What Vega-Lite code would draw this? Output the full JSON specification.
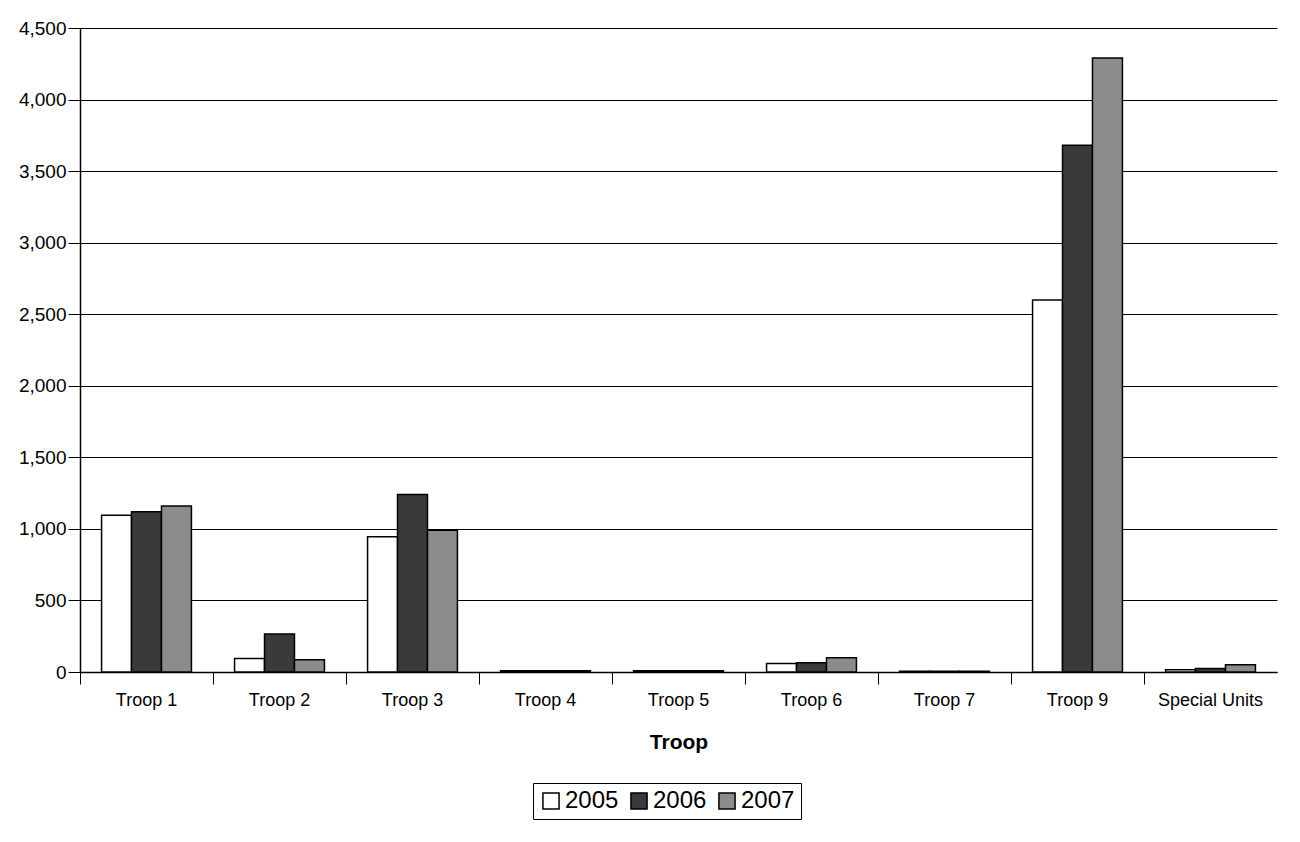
{
  "$schema": "https://vega.github.io/schema/vega-lite/v6.json",
  "width": 1197,
  "height": 644,
  "autosize": {"type": "none"},
  "padding": {"left": 80, "top": 28, "right": 23, "bottom": 170},
  "background": "white",
  "config": {"font": "Liberation Sans", "view": {"stroke": null}},
  "data": {
    "values": [
      {"troop": "Troop 1", "year": "2005", "value": 1095},
      {"troop": "Troop 1", "year": "2006", "value": 1120},
      {"troop": "Troop 1", "year": "2007", "value": 1160},
      {"troop": "Troop 2", "year": "2005", "value": 95},
      {"troop": "Troop 2", "year": "2006", "value": 265},
      {"troop": "Troop 2", "year": "2007", "value": 85},
      {"troop": "Troop 3", "year": "2005", "value": 945},
      {"troop": "Troop 3", "year": "2006", "value": 1240},
      {"troop": "Troop 3", "year": "2007", "value": 990},
      {"troop": "Troop 4", "year": "2005", "value": 8},
      {"troop": "Troop 4", "year": "2006", "value": 8},
      {"troop": "Troop 4", "year": "2007", "value": 8},
      {"troop": "Troop 5", "year": "2005", "value": 8},
      {"troop": "Troop 5", "year": "2006", "value": 8},
      {"troop": "Troop 5", "year": "2007", "value": 8},
      {"troop": "Troop 6", "year": "2005", "value": 60},
      {"troop": "Troop 6", "year": "2006", "value": 65},
      {"troop": "Troop 6", "year": "2007", "value": 100},
      {"troop": "Troop 7", "year": "2005", "value": 5},
      {"troop": "Troop 7", "year": "2006", "value": 5},
      {"troop": "Troop 7", "year": "2007", "value": 5},
      {"troop": "Troop 9", "year": "2005", "value": 2600},
      {"troop": "Troop 9", "year": "2006", "value": 3680},
      {"troop": "Troop 9", "year": "2007", "value": 4290},
      {"troop": "Special Units", "year": "2005", "value": 15},
      {"troop": "Special Units", "year": "2006", "value": 25},
      {"troop": "Special Units", "year": "2007", "value": 50}
    ]
  },
  "layer": [
    {
      "mark": {"type": "bar", "stroke": "black", "strokeWidth": 1.5},
      "encoding": {
        "x": {
          "field": "troop",
          "type": "nominal",
          "sort": ["Troop 1", "Troop 2", "Troop 3", "Troop 4", "Troop 5", "Troop 6", "Troop 7", "Troop 9", "Special Units"],
          "scale": {"paddingInner": 0, "paddingOuter": 0},
          "axis": {
            "orient": "bottom",
            "title": "Troop",
            "titleFontSize": 21,
            "titleFontWeight": "bold",
            "titleColor": "black",
            "titlePadding": 22,
            "labelAngle": 0,
            "labelFontSize": 18,
            "labelColor": "black",
            "labelPadding": 19,
            "ticks": false,
            "domainColor": "black",
            "domainWidth": 1.5
          }
        },
        "xOffset": {
          "field": "year",
          "type": "nominal",
          "scale": {"paddingInner": 0, "paddingOuter": 0.72}
        },
        "y": {
          "field": "value",
          "type": "quantitative",
          "scale": {"domain": [0, 4500]},
          "axis": {
            "title": null,
            "values": [0, 500, 1000, 1500, 2000, 2500, 3000, 3500, 4000, 4500],
            "format": ",.0f",
            "grid": true,
            "gridColor": "black",
            "gridWidth": 1,
            "labelFontSize": 19,
            "labelColor": "black",
            "labelPadding": 2,
            "tickSize": 12,
            "tickColor": "black",
            "domainColor": "black",
            "domainWidth": 1.5
          }
        },
        "fill": {
          "field": "year",
          "type": "nominal",
          "scale": {"domain": ["2005", "2006", "2007"], "range": ["white", "#3a3a3a", "#8c8c8c"]},
          "legend": {
            "title": null,
            "orient": "none",
            "legendX": 453,
            "legendY": 755,
            "direction": "horizontal",
            "symbolType": "square",
            "symbolSize": 260,
            "symbolStrokeColor": "black",
            "symbolStrokeWidth": 1.5,
            "labelFontSize": 24,
            "labelColor": "black",
            "columnPadding": 8,
            "symbolOffset": 0,
            "labelOffset": 2,
            "padding": 6,
            "strokeColor": "black",
            "fillColor": "white"
          }
        }
      }
    },
    {
      "mark": {"type": "bar", "opacity": 0},
      "encoding": {
        "x": {
          "field": "troop",
          "type": "nominal",
          "sort": ["Troop 1", "Troop 2", "Troop 3", "Troop 4", "Troop 5", "Troop 6", "Troop 7", "Troop 9", "Special Units"],
          "axis": {
            "orient": "bottom",
            "title": null,
            "labels": false,
            "bandPosition": 0,
            "ticks": true,
            "tickSize": 12,
            "tickColor": "black",
            "domain": false,
            "grid": false
          }
        }
      }
    }
  ],
  "resolve": {"axis": {"x": "independent"}}
}
